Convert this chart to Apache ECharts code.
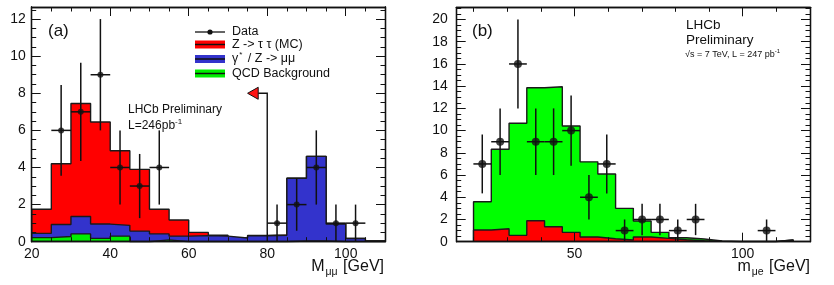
<!DOCTYPE html>
<html>
<head>
<meta charset="utf-8">
<script src="https://cdn.jsdelivr.net/npm/echarts@6/dist/echarts.min.js"></script>
<style>html,body{margin:0;padding:0;background:#fff;}#c{width:834px;height:285px;}</style>
</head>
<body>
<div id="c"></div>
<script>
// ---------- Panel (a) ----------
const aBinEdges = [20,25,30,35,40,45,50,55,60,65,70,75,80,85,90,95,100,105,110];
const aQCD      = [0.22,0.28,0.42,0.18,0.30,0.00,0.10,0.00,0,0,0,0,0,0.04,0.04,0,0,0];
const aDYmumu   = [0.23,0.65,0.94,0.77,0.58,0.57,0.32,0.30,0.33,0.30,0.20,0.32,0.35,3.38,4.56,0.95,0.17,0.04];
const aZtautau  = [1.30,3.27,6.09,5.50,4.02,3.33,1.33,0.87,0.17,0.05,0.00,0.02,0.02,0,0,0,0,0];
const aDataX    = [27.5,32.5,37.5,42.5,47.5,52.5,82.5,87.5,92.5,97.5,102.5];
const aDataY    = [6,7,9,4,3,4,1,2,4,1,1];
const aDataErr  = [2.45,2.65,3,2,1.73,2,1,1.41,2,1,1];
const aHalfBin  = 2.5;
const aCut      = [80, 8, 77.7, 75.0]; // cut x, arrow height, arrow shaft end x, arrow tip x
const aXTicks   = [20,40,60,80,100];
const aXMinor   = [25,30,35,45,50,55,65,70,75,85,90,95,105];
const aYTicks   = [0,2,4,6,8,10,12];
const aYMinor   = [0.5,1,1.5,2.5,3,3.5,4.5,5,5.5,6.5,7,7.5,8.5,9,9.5,10.5,11,11.5,12.5];
const aXRange   = [20,110];
const aYRange   = [0,12.65];

// ---------- Panel (b) ----------
const bBinEdges = [20,25.28,30.56,35.83,41.11,46.39,51.67,56.94,62.22,67.5,72.78,78.06,83.33,88.61,93.89,99.17,104.44,109.72,115];
const bRed      = [1.05,1.17,0.57,1.89,1.35,0.84,0.42,0.27,0.15,0.42,0.30,0.18,0.09,0.03,0,0,0,0.15];
const bGreen    = [2.55,7.15,10.09,11.97,12.60,9.58,6.77,5.83,2.85,1.44,0.54,0.18,0.15,0.03,0.02,0.02,0.02,0];
const bDataX    = [22.6,27.9,33.2,38.5,43.8,49.0,54.3,59.6,64.9,70.1,75.4,80.7,86.0,107.1];
const bDataY    = [7,9,16,9,9,10,4,7,1,2,2,1,2,1];
const bDataErr  = [2.65,3,4,3,3,3.16,2,2.65,1,1.41,1.41,1,1.41,1];
const bHalfBin  = 2.64;
const bXTicks   = [50,100];
const bXMinor   = [20,30,40,60,70,80,90,110];
const bYTicks   = [0,2,4,6,8,10,12,14,16,18,20];
const bYMinor   = [0.5,1,1.5,2.5,3,3.5,4.5,5,5.5,6.5,7,7.5,8.5,9,9.5,10.5,11,11.5,12.5,13,13.5,14.5,15,15.5,16.5,17,17.5,18.5,19,19.5,20.5,21];
const bXRange   = [15,120];
const bYRange   = [0,21.1];

const FONT = 'Liberation Sans, Arial, Helvetica, sans-serif';
const INK = '#111';

// stack component arrays (bottom first) into cumulative totals
function stackUp(list) {
  const out = [];
  let run = list[0].map(() => 0);
  list.forEach(arr => { run = run.map((v, i) => v + arr[i]); out.push(run.slice()); });
  return out;
}
const aCum = stackUp([aQCD, aDYmumu, aZtautau]);
const bCum = stackUp([bRed, bGreen]);

function histPoints(edges, vals) {
  const pts = [[edges[0], 0]];
  for (let i = 0; i < vals.length; i++) pts.push([edges[i], vals[i]]);
  pts.push([edges[edges.length - 1], vals[vals.length - 1]]);
  pts.push([edges[edges.length - 1], 0]);
  return pts;
}

function axesFor(grid, xr, yr, xT, xM, yT, yM, yLabMargin) {
  const base = (extra) => Object.assign({
    gridIndex: grid, type: 'value', splitLine: {show: false}, z: 20,
    axisLine: {show: true, onZero: false, lineStyle: {color: INK, width: 1.3}},
  }, extra);
  const xs = [], ys = [];
  const lab = (vals, margin) => ({show: true, customValues: vals, fontSize: 14, color: INK, fontFamily: FONT, margin: margin});
  const noLab = {show: false};
  const tick = (vals, len) => ({show: true, inside: true, customValues: vals, length: len, lineStyle: {color: INK, width: 1}});
  xs.push(base({position: 'bottom', min: xr[0], max: xr[1], axisLabel: lab(xT, 5), axisTick: tick(xT, 9)}));
  xs.push(base({position: 'bottom', min: xr[0], max: xr[1], axisLabel: noLab, axisTick: tick(xM, 4.5)}));
  xs.push(base({position: 'top', min: xr[0], max: xr[1], axisLabel: noLab, axisTick: tick(xT, 9)}));
  xs.push(base({position: 'top', min: xr[0], max: xr[1], axisLabel: noLab, axisTick: tick(xM, 4.5)}));
  ys.push(base({position: 'left', min: yr[0], max: yr[1], axisLabel: lab(yT, yLabMargin), axisTick: tick(yT, 9)}));
  ys.push(base({position: 'left', min: yr[0], max: yr[1], axisLabel: noLab, axisTick: tick(yM, 4.5)}));
  ys.push(base({position: 'right', min: yr[0], max: yr[1], axisLabel: noLab, axisTick: tick(yT, 9)}));
  ys.push(base({position: 'right', min: yr[0], max: yr[1], axisLabel: noLab, axisTick: tick(yM, 4.5)}));
  return {xs, ys};
}

const A = axesFor(0, aXRange, aYRange, aXTicks, aXMinor, aYTicks, aYMinor, 6);
const B = axesFor(1, bXRange, bYRange, bXTicks, bXMinor, bYTicks, bYMinor, 9);

function histSeries(xi, yi, edges, vals, color, z, name) {
  return {
    type: 'line', name: name, xAxisIndex: xi, yAxisIndex: yi, step: 'end', z: z,
    data: histPoints(edges, vals), symbol: 'none', showSymbol: false,
    lineStyle: {color: '#1a1a1a', width: 1.4}, areaStyle: {color: color, opacity: 1},
    emphasis: {disabled: true}, silent: true, animation: false
  };
}

function errSeries(xi, yi, xs, ys, errs, hw) {
  return {
    type: 'custom', xAxisIndex: xi, yAxisIndex: yi, silent: true, animation: false, z: 5,
    data: xs.map((x, i) => [x, ys[i], hw, errs[i]]),
    encode: {x: 0, y: 1},
    renderItem: function (params, api) {
      const x = api.value(0), y = api.value(1), h = api.value(2), e = api.value(3);
      const l = api.coord([x - h, y]), r = api.coord([x + h, y]);
      const b = api.coord([x, Math.max(y - e, 0)]), t = api.coord([x, y + e]);
      const st = {stroke: INK, lineWidth: 1.5};
      return {type: 'group', children: [
        {type: 'line', shape: {x1: l[0], y1: l[1], x2: r[0], y2: r[1]}, style: st},
        {type: 'line', shape: {x1: b[0], y1: b[1], x2: t[0], y2: t[1]}, style: st}
      ]};
    }
  };
}

function dotSeries(xi, yi, xs, ys, size) {
  return {
    type: 'scatter', xAxisIndex: xi, yAxisIndex: yi, symbol: 'circle', symbolSize: size,
    itemStyle: {color: INK}, data: xs.map((x, i) => [x, ys[i]]), z: 6, silent: true, animation: false
  };
}

const arrowSeries = {
  type: 'custom', xAxisIndex: 0, yAxisIndex: 0, silent: true, animation: false, z: 7,
  data: [aCut], encode: {x: 0, y: 1},
  renderItem: function (params, api) {
    const cx = api.value(0), h = api.value(1), sx = api.value(2), tx = api.value(3);
    const p0 = api.coord([cx, 0]), p1 = api.coord([cx, h]), p2 = api.coord([sx, h]), p3 = api.coord([tx, h]);
    return {type: 'group', children: [
      {type: 'polyline', shape: {points: [p0, p1, p2]}, style: {stroke: INK, lineWidth: 1.4, fill: 'none'}},
      {type: 'polygon', shape: {points: [[p2[0], p2[1] - 6], [p2[0], p2[1] + 6], [p3[0], p3[1]]]},
        style: {fill: 'rgb(255,20,20)', stroke: INK, lineWidth: 1}}
    ]};
  }
};

function legendBox(y, color) {
  return [
    {type: 'rect', z: 100, shape: {x: 195, y: y - 4, width: 30, height: 8}, style: {fill: color}},
    {type: 'line', z: 101, shape: {x1: 195, y1: y, x2: 225, y2: y}, style: {stroke: '#111', lineWidth: 1.5}}
  ];
}

const T = (x, y, text, size, extra) => ({type: 'text', z: 100, x: x, y: y,
  style: Object.assign({text: text, fontSize: size, fontFamily: FONT, fill: INK, verticalAlign: 'middle'}, extra || {})});

const graphics = [
  T(48, 31, '(a)', 17),
  T(472, 31, '(b)', 17),
  {type: 'line', z: 100, shape: {x1: 195, y1: 32, x2: 225, y2: 32}, style: {stroke: '#111', lineWidth: 1.3}},
  {type: 'circle', z: 101, shape: {cx: 210, cy: 32, r: 2.6}, style: {fill: '#111'}},
  ...legendBox(44.5, '#ff0000'),
  ...legendBox(59, '#3333cc'),
  ...legendBox(73.5, '#00ee00'),
  T(232, 32, 'Data', 12.5),
  T(232, 44.5, 'Z -> τ τ (MC)', 12.5),
  T(232, 59, '{n|γ}{s|*}{n| / Z -> μμ}', 12.5, {
    rich: {n: {fontSize: 12.5, fontFamily: FONT, color: INK, lineHeight: 16}, s: {fontSize: 8, fontFamily: FONT, color: INK, verticalAlign: 'top', padding: [0, 2, 0, 1]}}}),
  T(232, 73.5, 'QCD Background', 12.5),
  T(128, 110, 'LHCb Preliminary', 12),
  T(128, 126, '{n|L=246pb}{s|-1}', 12, {
    rich: {n: {fontSize: 12, fontFamily: FONT, color: INK, lineHeight: 16}, s: {fontSize: 8, fontFamily: FONT, color: INK, verticalAlign: 'top'}}}),
  T(686, 25, 'LHCb', 13.5),
  T(686, 40.5, 'Preliminary', 13.5),
  T(685, 54.5, '{n|√s = 7 TeV, L = 247 pb}{s|-1}', 9, {
    rich: {n: {fontSize: 9, fontFamily: FONT, color: INK, lineHeight: 12}, s: {fontSize: 6, fontFamily: FONT, color: INK, verticalAlign: 'top'}}}),
  T(384, 267, '{n|M}{s|μμ}{n| [GeV]}', 16, {align: 'right',
    rich: {n: {fontSize: 16, fontFamily: FONT, color: INK, lineHeight: 22}, s: {fontSize: 10.5, fontFamily: FONT, color: INK, verticalAlign: 'bottom', padding: [0, 1, 0, 1]}}}),
  T(810, 267, '{n|m}{s|μe}{n| [GeV]}', 16, {align: 'right',
    rich: {n: {fontSize: 16, fontFamily: FONT, color: INK, lineHeight: 22}, s: {fontSize: 10.5, fontFamily: FONT, color: INK, verticalAlign: 'bottom', padding: [0, 1, 0, 1]}}})
];

const chart = echarts.init(document.getElementById('c'), null, {renderer: 'canvas'});
chart.setOption({
  animation: false,
  backgroundColor: '#ffffff',
  grid: [
    {left: 31.7, top: 7, width: 353.3, height: 234.7},
    {left: 456.7, top: 7.3, width: 353.3, height: 234.4}
  ],
  xAxis: [...A.xs, ...B.xs],
  yAxis: [...A.ys, ...B.ys],
  series: [
    histSeries(0, 0, aBinEdges, aCum[2], '#ff0000', 1, 'Z -> tau tau (MC)'),
    histSeries(0, 0, aBinEdges, aCum[1], '#3333cc', 2, 'gamma*/Z -> mumu'),
    histSeries(0, 0, aBinEdges, aCum[0], '#00ee00', 3, 'QCD Background'),
    arrowSeries,
    errSeries(0, 0, aDataX, aDataY, aDataErr, aHalfBin),
    dotSeries(0, 0, aDataX, aDataY, 6),
    histSeries(4, 4, bBinEdges, bCum[1], '#00ff00', 1, 'green'),
    histSeries(4, 4, bBinEdges, bCum[0], '#ff0000', 2, 'red'),
    errSeries(4, 4, bDataX, bDataY, bDataErr, bHalfBin),
    dotSeries(4, 4, bDataX, bDataY, 8)
  ],
  graphic: graphics
});
</script>
</body>
</html>
